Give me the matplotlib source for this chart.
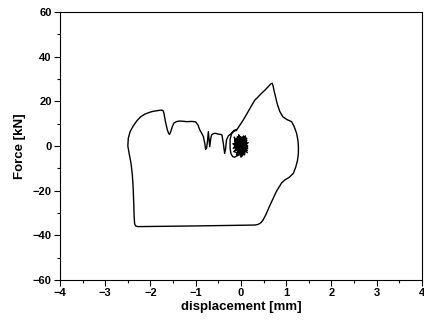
import numpy as np
import matplotlib
matplotlib.use("Agg")
import matplotlib.pyplot as plt
from matplotlib.ticker import MultipleLocator

plt.rcParams['font.family'] = ['Liberation Sans', 'DejaVu Sans']
plt.rcParams['font.weight'] = 'bold'

# hysteresis loop: outer path (displacement mm, force kN)
disp_outer = [-0.10, -0.02, 0.05, 0.12, 0.20, 0.26, 0.31, 0.38, 0.45, 0.53,
              0.60, 0.66, 0.69, 0.71, 0.73, 0.76, 0.80, 0.86, 0.93, 1.02,
              1.12, 1.18, 1.23, 1.26, 1.27, 1.27, 1.25, 1.21, 1.16, 1.07,
              0.97, 0.90, 0.84, 0.78, 0.70, 0.62, 0.55, 0.49, 0.44, 0.38,
              0.31, -1.00, -2.28, -2.33, -2.35, -2.36, -2.37, -2.38, -2.40,
              -2.43, -2.47, -2.50, -2.49, -2.45, -2.38, -2.30, -2.21, -2.12,
              -2.03, -1.95, -1.85, -1.76, -1.72, -1.70, -1.67, -1.63, -1.60,
              -1.58, -1.55, -1.52, -1.48, -1.43, -1.35, -1.20, -1.08, -1.00,
              -0.95, -0.91, -0.87, -0.83, -0.80, -0.78, -0.76, -0.74, -0.72,
              -0.70, -0.69, -0.67, -0.65, -0.61, -0.57, -0.50, -0.45, -0.42,
              -0.39, -0.36, -0.34, -0.32, -0.28, -0.25, -0.21, -0.16, -0.12,
              -0.10, -0.15, -0.20, -0.24, -0.24, -0.22, -0.18, -0.14, -0.05]
force_outer = [7.0, 9.5, 11.6, 14.0, 16.9, 19.0, 20.6, 22.0, 23.5, 25.0,
               26.5, 27.8, 28.1, 27.0, 25.0, 22.5, 19.0, 15.4, 13.0, 11.8,
               10.9, 8.5, 5.7, 2.5, 0.0, -3.3, -6.5, -9.5, -12.2, -14.0,
               -15.2, -16.5, -18.5, -20.5, -24.0, -27.5, -30.8, -33.1, -34.4, -35.1,
               -35.4, -35.8, -36.1, -35.8, -34.8, -32.0, -25.0, -19.7, -13.0,
               -7.8, -3.5, 0.0, 3.5, 6.4, 9.0, 11.3, 13.2, 14.3,
               15.0, 15.5, 15.8, 16.1, 15.8, 14.5, 11.0, 7.5, 5.7,
               5.2, 6.5, 8.5, 10.3, 10.9, 11.2, 10.9, 11.0, 10.8,
               9.4, 7.2, 5.8, 4.2, 1.2, -1.5, -1.0, 2.0, 6.4,
               2.0, -0.3, 3.0, 4.9, 5.5, 5.7, 5.3, 5.2, 4.9,
               1.2, -3.3, -1.5, 2.7, 4.5, 5.0, 5.7, 6.5, 7.0,
               7.2, 7.0, 6.0, 3.0, -1.0, -3.5, -4.8, -5.0, -4.0]

# dense small cycles near the origin
disp_blob = [-0.15, 0.05, 0.10, -0.10, 0.12, -0.18, 0.14, -0.05, 0.00, 0.13,
             -0.16, 0.08, 0.10, -0.12, 0.15, -0.17, 0.06, 0.03, -0.08, 0.14,
             -0.14, 0.11, -0.06, 0.09, -0.10, 0.12, -0.15, 0.05, 0.00, -0.05,
             0.07, -0.08, 0.04, -0.12, 0.13, -0.02, 0.10, -0.14, 0.15, -0.04,
             0.08, -0.11, 0.12, 0.02, -0.07, 0.11, -0.03, 0.06, -0.09, 0.03,
             0.16, -0.06, 0.12, -0.13, 0.09, 0.01, -0.10, 0.14, -0.02, 0.05]
force_blob = [4.0, -3.0, 4.5, -4.0, 2.0, 1.0, -2.0, 5.0, -5.0, 3.5,
              -2.5, -4.0, 4.0, 3.0, 0.0, -1.0, 4.5, -4.5, 4.2, -3.0,
              2.5, 1.5, -3.5, -1.5, 3.5, -0.5, 0.5, 3.0, -3.0, 2.0,
              -2.0, 1.0, 0.5, -2.0, 2.5, -4.2, 3.8, -0.5, -1.0, 4.6,
              -3.6, 2.2, 1.0, -2.8, 3.2, -1.2, 0.8, 2.4, -1.6, 0.2,
              1.5, -3.0, 3.0, 1.8, -2.5, 4.0, -1.5, -0.8, 3.0, 0.0]

x = disp_outer + disp_blob
y = force_outer + force_blob

fig = plt.figure(figsize=(4.24, 3.29), dpi=100)
ax = fig.add_axes([0.1415, 0.149, 0.8535, 0.8145])
ax.plot(x, y, color='black', lw=1.0)

ax.set_xlim(-4, 4)
ax.set_ylim(-60, 60)
ax.xaxis.set_major_locator(MultipleLocator(1))
ax.xaxis.set_minor_locator(MultipleLocator(0.5))
ax.yaxis.set_major_locator(MultipleLocator(20))
ax.yaxis.set_minor_locator(MultipleLocator(10))
ax.tick_params(which='both', direction='out', top=False, right=False,
               labelsize=8, width=0.8)
ax.tick_params(which='major', length=4, pad=2)
ax.tick_params(which='minor', length=2)
for s in ax.spines.values():
    s.set_linewidth(0.8)

ax.set_xlabel('displacement [mm]', fontsize=9.5, fontweight='bold', labelpad=2)
ax.set_ylabel('Force [kN]', fontsize=9.5, fontweight='bold', labelpad=5)

fig.canvas.draw()
plt.setp(ax.get_xticklabels() + ax.get_yticklabels(), fontweight='bold')

fig.savefig('out.png', dpi=100)
